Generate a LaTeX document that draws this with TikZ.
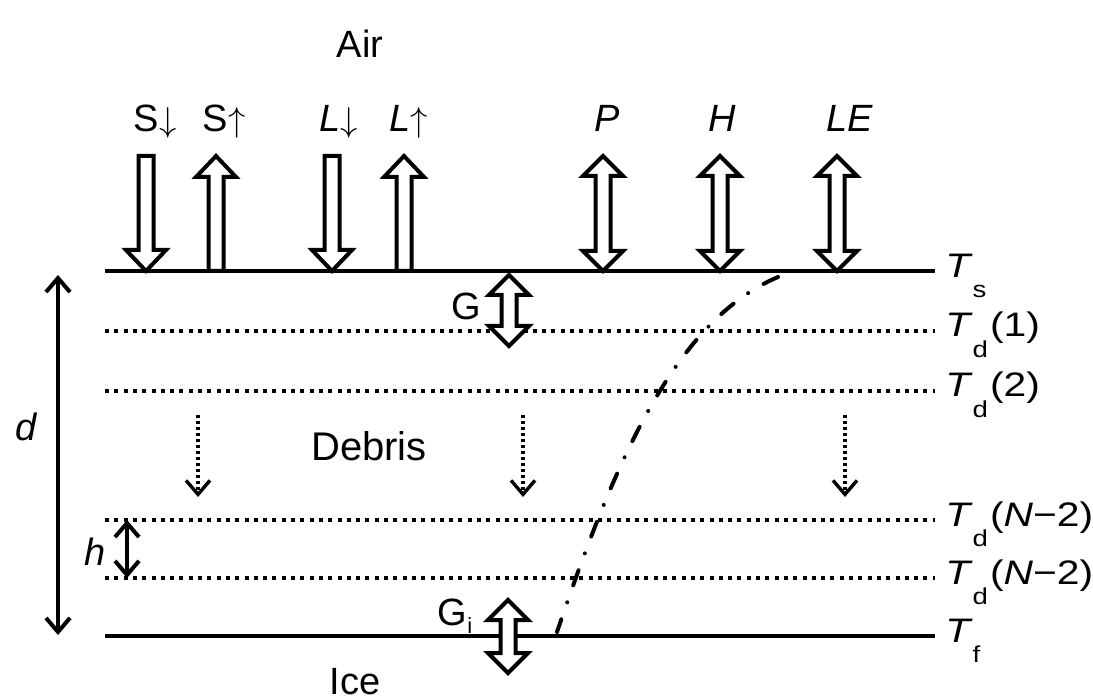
\documentclass[tikz,border=0pt]{standalone}
\usepackage{fontspec}
\setmainfont{Liberation Sans}
\newfontfamily\widesans[FakeStretch=1.2]{Liberation Sans}
\usetikzlibrary{arrows.meta}

% lowered subscript as used in the layer temperature labels
\newcommand{\lowsub}[1]{\raisebox{-10pt}{\fontsize{11.5}{12}\selectfont #1}\kern1pt}

% hollow block arrows: x, upper y, lower y (y grows downwards)
\newcommand{\fluxdown}[3]{%
  \draw[blockarrow] (#1-7.5,#2) -- (#1+7.5,#2) -- (#1+7.5,#3-21) -- (#1+20,#3-21)
    -- (#1,#3) -- (#1-20,#3-21) -- (#1-7.5,#3-21) -- cycle;}
\newcommand{\fluxup}[3]{%
  \draw[blockarrow] (#1-7.5,#3) -- (#1+7.5,#3) -- (#1+7.5,#2+21) -- (#1+20,#2+21)
    -- (#1,#2) -- (#1-20,#2+21) -- (#1-7.5,#2+21) -- cycle;}
\newcommand{\fluxboth}[3]{%
  \draw[blockarrow] (#1,#2) -- (#1+20,#2+20) -- (#1+7.5,#2+20) -- (#1+7.5,#3-20)
    -- (#1+20,#3-20) -- (#1,#3) -- (#1-20,#3-20) -- (#1-7.5,#3-20)
    -- (#1-7.5,#2+20) -- (#1-20,#2+20) -- cycle;}

\begin{document}
\begin{tikzpicture}[x=0.5pt,y=-0.5pt,
  surface/.style={line width=2.4pt},
  layer/.style={line width=2pt, dash pattern=on 2pt off 2.65pt},
  blockarrow/.style={draw, line width=2pt, fill=white, line join=miter},
  profile/.style={line width=2pt, line cap=round, dash pattern=on 8pt off 9pt on 0pt off 9pt},
  dim/.style={line width=2pt, {Straight Barb[length=7pt,width=12pt]}-{Straight Barb[length=7pt,width=12pt]}},
  settle/.style={line width=1.7pt, dash pattern=on 1.5pt off 1.5pt, -{Straight Barb[length=7pt,width=12pt]}},
  lab/.style={font=\fontsize{19}{22}\selectfont, inner sep=0pt, anchor=base},
  tlab/.style={font=\widesans\fontsize{17}{20}\selectfont, inner sep=0pt, anchor=base west}]

\useasboundingbox (0,0) rectangle (1093,700);

% layer boundaries
\coordinate (sL) at (105,271);  \coordinate (sR) at (935,271);
\coordinate (l1L) at (105,331); \coordinate (l1R) at (935,331);
\coordinate (l2L) at (105,391); \coordinate (l2R) at (935,391);
\coordinate (l3L) at (105,520); \coordinate (l3R) at (935,520);
\coordinate (l4L) at (105,578); \coordinate (l4R) at (935,578);
\coordinate (fL) at (105,636);  \coordinate (fR) at (935,636);

\draw[surface] (sL) -- (sR);
\draw[layer] (l1L) -- (l1R);
\draw[layer] (l2L) -- (l2R);
\draw[layer] (l3L) -- (l3R);
\draw[layer] (l4L) -- (l4R);
\draw[surface] (fL) -- (fR);

% temperature profile through the debris layer
\coordinate (cTop) at (778,277);
\coordinate (cBot) at (557,632);
\draw[profile] (cTop) .. controls (672,322) and (612,470) .. (cBot);

% surface energy fluxes
\fluxdown{146}{156}{271}
\fluxup{216}{156}{271}
\fluxdown{332}{156}{271}
\fluxup{404}{156}{271}
\fluxboth{603}{156}{271}
\fluxboth{720}{156}{271}
\fluxboth{837}{156}{271}
% conductive fluxes
\fluxboth{509}{275}{346}
\fluxboth{508}{600}{673}

% thickness markers
\coordinate (dTop) at (58,275);  \coordinate (dBot) at (58,635);
\coordinate (hTop) at (127,520); \coordinate (hBot) at (127,578);
\draw[dim] (dTop) -- (dBot);
\draw[dim] (hTop) -- (hBot);

% downward debris movement
\coordinate (m1a) at (198,415); \coordinate (m1b) at (198,497);
\coordinate (m2a) at (523,415); \coordinate (m2b) at (523,497);
\coordinate (m3a) at (845,415); \coordinate (m3b) at (845,497);
\draw[settle] (m1a) -- (m1b);
\draw[settle] (m2a) -- (m2b);
\draw[settle] (m3a) -- (m3b);

% labels
\node[lab] (air) at (360,58) {Air};
\node[lab] (debris) at (369,460) {\fontsize{20}{22}\selectfont Debris};
\node[lab] (ice) at (355,694) {Ice};

\node[lab] (sdn) at (155,132) {S$\downarrow$};
\node[lab] (sup) at (224,132) {S$\uparrow$};
\node[lab] (ldn) at (339,132) {\textit{L}$\downarrow$};
\node[lab] (lup) at (409,132) {\textit{L}$\uparrow$};
\node[lab] (p) at (607,132) {\textit{P}};
\node[lab] (h) at (722,132) {\textit{H}};
\node[lab] (le) at (850,132) {\textit{LE}};

\node[lab] (g) at (466,320) {G};
\node[lab] (gi) at (455,625) {G\raisebox{-4pt}{\fontsize{11}{12}\selectfont i}};
\node[lab] (dl) at (27,440) {\textit{d}};
\node[lab] (hl) at (95,565) {\textit{h}};

\node[tlab] (ts) at (945,278) {\textit{T}\lowsub{s}};
\node[tlab] (td1) at (945,337) {\textit{T}\lowsub{d}(1)};
\node[tlab] (td2) at (945,397) {\textit{T}\lowsub{d}(2)};
\node[tlab] (td3) at (945,526) {\textit{T}\lowsub{d}(\textit{N}−2)};
\node[tlab] (td4) at (945,584) {\textit{T}\lowsub{d}(\textit{N}−2)};
\node[tlab] (tf) at (945,642) {\textit{T}\lowsub{f}};
\end{tikzpicture}
\end{document}
